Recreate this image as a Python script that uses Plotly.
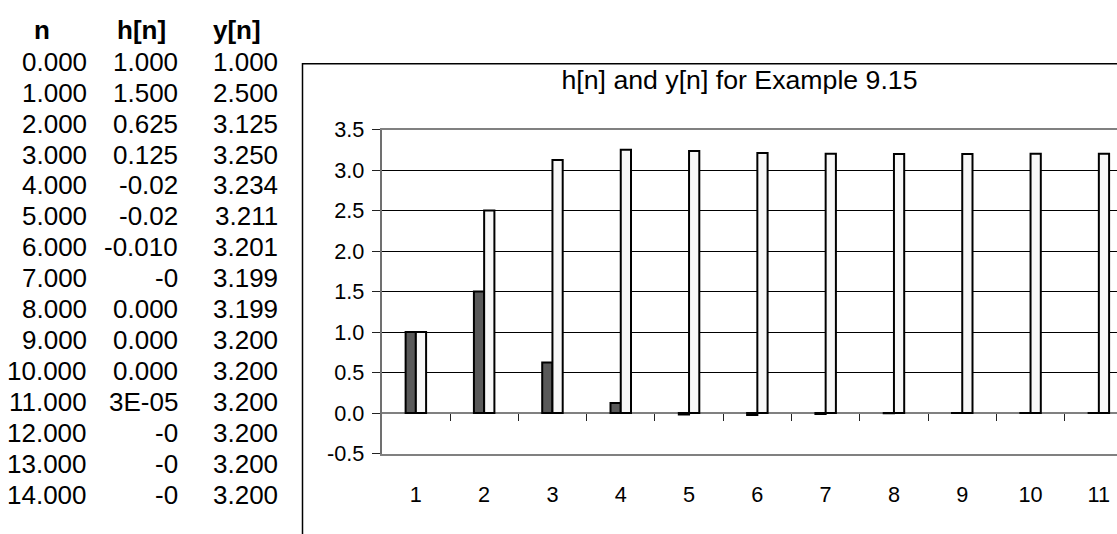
import plotly.graph_objects as go

# spreadsheet columns (as displayed) and chart series
n_vals = [0, 1, 2, 3, 4, 5, 6, 7, 8, 9, 10, 11, 12, 13, 14]
h_text = ["1.000", "1.500", "0.625", "0.125", "-0.02", "-0.02", "-0.010", "-0",
          "0.000", "0.000", "0.000", "3E-05", "-0", "-0", "-0"]
h_vals = [1.0, 1.5, 0.625, 0.125, -0.016, -0.023, -0.010, -0.002,
          0.0003, 0.0004, 0.0002, 0.00003, -0.00002, -0.00001, -0.000005]
y_vals = [1.000, 2.500, 3.125, 3.250, 3.234, 3.211, 3.201, 3.199,
          3.199, 3.200, 3.200, 3.200, 3.200, 3.200, 3.200]
categories = [1, 2, 3, 4, 5, 6, 7, 8, 9, 10, 11, 12, 13, 14, 15]
y_ticks = [-0.5, 0.0, 0.5, 1.0, 1.5, 2.0, 2.5, 3.0, 3.5]
headers = ["n", "h[n]", "y[n]"]

W, H = 1117, 534
FONT = "Liberation Sans, Arial, sans-serif"

# plot area in pixels
left, top, bottom = 381.7, 123.3, 463.3
cat_w = 68.3
x_range = [0.5, 0.5 + (W - left) / cat_w]
y_dom = [(H - bottom) / H, (H - top) / H]
zero_pos = y_dom[0] + (0 - y_ticks[0]) / (y_ticks[-1] - y_ticks[0]) * (y_dom[1] - y_dom[0])

fig = go.Figure()
fig.add_trace(go.Bar(x=categories, y=h_vals, name="h[n]",
                     marker=dict(color="#595959", line=dict(color="black", width=2))))
fig.add_trace(go.Bar(x=categories, y=y_vals, name="y[n]",
                     marker=dict(color="#f8f8f8", line=dict(color="black", width=2))))
# carrier for the tick axis sitting on the zero line
fig.add_trace(go.Scatter(x=[None], y=[None], xaxis="x2", yaxis="y",
                         showlegend=False, hoverinfo="skip"))

fig.update_layout(
    width=W, height=H,
    margin=dict(l=0, r=0, t=0, b=0),
    paper_bgcolor="white", plot_bgcolor="white",
    showlegend=False,
    barmode="group", bargap=0.7, bargroupgap=0,
    font=dict(family=FONT, color="black"),
    title=dict(text="h[n] and y[n] for Example 9.15",
               font=dict(size=26.7, family=FONT, color="black"),
               xref="paper", yref="paper", x=739.5 / W, xanchor="center",
               y=1 - 71 / H, yanchor="middle"),
    xaxis=dict(domain=[left / W, 1], range=x_range,
               tickvals=categories, ticktext=[str(c) for c in categories],
               tickfont=dict(size=21.7),
               ticks="outside", ticklen=20, tickcolor="rgba(0,0,0,0)",
               showgrid=False, zeroline=False,
               showline=True, mirror=True, linecolor="#808080", linewidth=2),
    xaxis2=dict(overlaying="x", anchor="free", position=zero_pos, range=x_range,
                tickvals=[c + 0.5 for c in categories], ticks="outside", ticklen=7,
                tickwidth=1, tickcolor="#222222", showticklabels=False,
                showgrid=False, zeroline=False, showline=False),
    yaxis=dict(domain=y_dom, range=[y_ticks[0], y_ticks[-1]],
               tickvals=y_ticks, ticktext=[f"{v:.1f}" for v in y_ticks],
               tickfont=dict(size=21.7),
               ticks="outside", ticklen=8, tickcolor="#222222", tickwidth=1,
               ticklabelstandoff=3,
               showgrid=True, gridcolor="black", gridwidth=1,
               zeroline=True, zerolinecolor="#808080", zerolinewidth=2,
               showline=True, linecolor="#707070", linewidth=2),
)

# chart area border
fig.add_shape(type="rect", xref="paper", yref="paper",
              x0=302.5 / W, x1=1.05, y0=-0.05, y1=1 - 54.3 / H,
              line=dict(color="black", width=1.5), layer="below")

# spreadsheet table on the left
head_x = [42, 141, 237]
col_right = [89, 179.5, 279.5]
row0, row_h = 52, 32.5
for hx, txt in zip(head_x, headers):
    fig.add_annotation(text=f"<b>{txt}</b>", xref="paper", yref="paper",
                       x=hx / W, y=1 - 19 / H, xanchor="center", yanchor="middle",
                       showarrow=False, font=dict(size=26, family=FONT, color="black"))
for i, (nv, ht, yv) in enumerate(zip(n_vals, h_text, y_vals)):
    cells = [f"{nv:.3f}", ht, f"{yv:.3f}"]
    for cx, txt in zip(col_right, cells):
        fig.add_annotation(text=txt, xref="paper", yref="paper",
                           x=cx / W, y=1 - (row0 + i * row_h) / H,
                           xanchor="right", yanchor="middle", showarrow=False,
                           font=dict(size=26, family=FONT, color="black"))

fig.write_html("out.html", config={"displayModeBar": False},
               post_script="document.body.style.margin='0';")
